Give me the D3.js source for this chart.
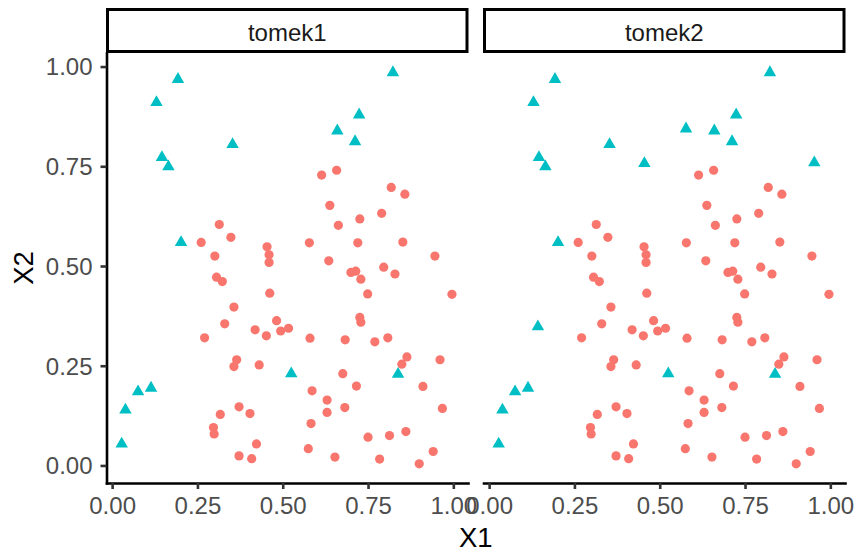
<!DOCTYPE html>
<html lang="en">
<head>
<meta charset="utf-8">
<title>tomek facets</title>
<script src="https://d3js.org/d3.v7.min.js"></script>
<style>
  body { margin: 0; background: #fff; }
  text { font-family: "Liberation Sans", Arial, Helvetica, sans-serif; }
</style>
</head>
<body>
<div id="chart"></div>
<script>
// facet names
var facetNames = ["tomek1", "tomek2"];

// majority class (circles), same in both panels
var majX = [0.314, 0.261, 0.348, 0.301, 0.454, 0.460, 0.460, 0.614, 0.658, 0.818,
            0.858, 0.638, 0.790, 0.726, 0.663, 0.578, 0.720, 0.852, 0.946, 0.635,
            0.700, 0.714, 0.729, 0.796, 0.829, 0.749, 0.996, 0.726, 0.729, 0.580,
            0.683, 0.770, 0.808, 0.864, 0.849, 0.961, 0.676, 0.716, 0.911, 0.586,
            0.630, 0.630, 0.682, 0.968, 0.583, 0.750, 0.813, 0.861, 0.575, 0.653,
            0.784, 0.941, 0.900, 0.306, 0.323, 0.462, 0.357, 0.330, 0.271, 0.419,
            0.452, 0.482, 0.494, 0.517, 0.365, 0.357, 0.431, 0.372, 0.317, 0.404,
            0.297, 0.299, 0.423, 0.372, 0.409];
var majY = [0.604, 0.559, 0.572, 0.525, 0.548, 0.528, 0.509, 0.728, 0.740, 0.697,
            0.680, 0.652, 0.632, 0.618, 0.602, 0.558, 0.558, 0.560, 0.525, 0.513,
            0.484, 0.487, 0.467, 0.497, 0.480, 0.430, 0.429, 0.371, 0.359, 0.319,
            0.315, 0.310, 0.320, 0.272, 0.254, 0.265, 0.230, 0.199, 0.198, 0.187,
            0.164, 0.133, 0.145, 0.143, 0.105, 0.071, 0.075, 0.085, 0.042, 0.021,
            0.016, 0.035, 0.004, 0.472, 0.461, 0.432, 0.397, 0.355, 0.320, 0.340,
            0.325, 0.363, 0.337, 0.344, 0.265, 0.248, 0.252, 0.147, 0.128, 0.130,
            0.095, 0.079, 0.054, 0.024, 0.017];

// minority class (triangles), tomek1
var minX1 = [0.193, 0.130, 0.353, 0.146, 0.165, 0.202, 0.823, 0.724, 0.660, 0.712,
             0.114, 0.076, 0.039, 0.028, 0.525, 0.838];
var minY1 = [0.968, 0.910, 0.805, 0.772, 0.749, 0.559, 0.985, 0.879, 0.839, 0.812,
             0.194, 0.185, 0.139, 0.054, 0.230, 0.229];

// minority class (triangles), tomek2
var minX2 = [0.193, 0.130, 0.353, 0.146, 0.165, 0.202, 0.823, 0.724, 0.660, 0.712,
             0.114, 0.076, 0.039, 0.028, 0.525, 0.838, 0.455, 0.577, 0.953, 0.143];
var minY2 = [0.968, 0.910, 0.805, 0.772, 0.749, 0.559, 0.985, 0.879, 0.839, 0.812,
             0.194, 0.185, 0.139, 0.054, 0.230, 0.229, 0.757, 0.844, 0.759, 0.348];

var xTicks = [0, 0.25, 0.5, 0.75, 1];
var yTicks = [0, 0.25, 0.5, 0.75, 1];

(function() {
  var panels = [
    {name: facetNames[0], left: 106.5, mx: majX, my: majY, tx: minX1, ty: minY1, yAxis: true},
    {name: facetNames[1], left: 483.5, mx: majX, my: majY, tx: minX2, ty: minY2, yAxis: false}
  ];

  var panelTop = 53, pw = 361.5, ph = 430;

  var svg = d3.select("#chart").append("svg")
    .attr("width", 856)
    .attr("height", 551);

  var x = d3.scaleLinear().domain([-0.0165, 1.043]).range([0, pw]);
  var y = d3.scaleLinear().domain([-0.044, 1.034]).range([ph, 0]);

  // equilateral triangle, circumradius ~7.2px
  var tri = d3.symbol().type(d3.symbolTriangle).size(1.299 * 52);

  function styleAxis(a) {
    a.attr("font-family", null).attr("font-size", null);
    a.select(".domain").attr("stroke", "#000").attr("stroke-width", 2.6).attr("stroke-linecap", "square");
    a.selectAll(".tick line").attr("stroke", "#333333").attr("stroke-width", 2.6);
    a.selectAll(".tick text").attr("fill", "#4d4d4d").attr("font-size", 24);
  }

  panels.forEach(function(p) {
    var g = svg.append("g").attr("transform", "translate(" + p.left + "," + panelTop + ")");

    // strip
    g.append("rect")
      .attr("x", 1).attr("y", -43.5)
      .attr("width", pw - 2).attr("height", 42)
      .attr("fill", "#fff").attr("stroke", "#000").attr("stroke-width", 3);
    g.append("text")
      .attr("x", pw / 2).attr("y", -12.5)
      .attr("text-anchor", "middle")
      .attr("font-size", 24).attr("fill", "#1a1a1a")
      .text(p.name);

    // circles
    g.selectAll(".maj")
      .data(d3.range(p.mx.length))
      .enter().append("circle")
        .attr("class", "maj")
        .attr("cx", function(i) { return x(p.mx[i]); })
        .attr("cy", function(i) { return y(p.my[i]); })
        .attr("r", 4.6)
        .attr("fill", "#F8766D");

    // triangles
    g.selectAll(".min")
      .data(d3.range(p.tx.length))
      .enter().append("path")
        .attr("class", "min")
        .attr("d", tri)
        .attr("transform", function(i) { return "translate(" + x(p.tx[i]) + "," + y(p.ty[i]) + ")"; })
        .attr("fill", "#00BFC4");

    // x axis
    var xa = g.append("g")
      .attr("transform", "translate(0," + ph + ")")
      .call(d3.axisBottom(x).tickValues(xTicks).tickFormat(d3.format(".2f")).tickSize(6).tickSizeOuter(0));
    styleAxis(xa);
    xa.selectAll("text").attr("y", 31).attr("dy", null);

    if (p.yAxis) {
      var ya = g.append("g")
        .call(d3.axisLeft(y).tickValues(yTicks).tickFormat(d3.format(".2f")).tickSize(6).tickSizeOuter(0).tickPadding(8));
      styleAxis(ya);
      ya.selectAll("text").attr("dy", "0.35em");
    }
  });

  // axis titles
  svg.append("text")
    .attr("x", (106.5 + 483.5 + pw) / 2).attr("y", 547)
    .attr("text-anchor", "middle").attr("font-size", 27.5).attr("fill", "#000")
    .text("X1");
  svg.append("text")
    .attr("transform", "translate(32.5," + (panelTop + ph / 2) + ") rotate(-90)")
    .attr("text-anchor", "middle").attr("font-size", 27.5).attr("fill", "#000")
    .text("X2");
})();
</script>
</body>
</html>
